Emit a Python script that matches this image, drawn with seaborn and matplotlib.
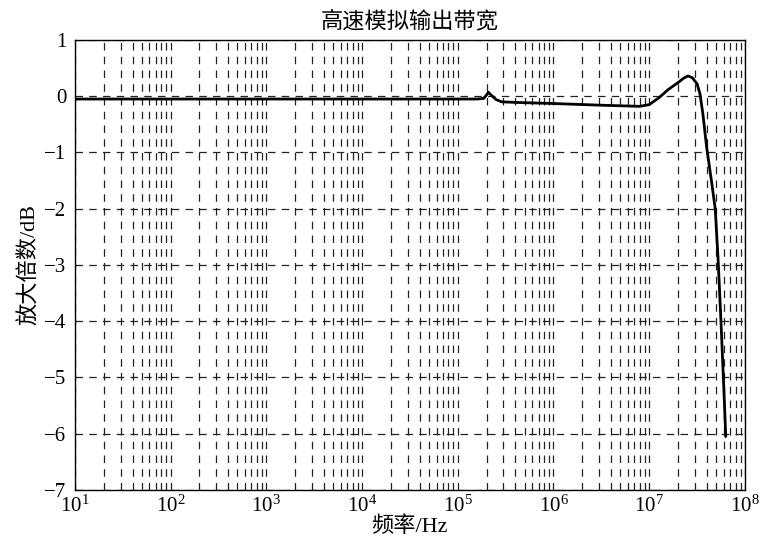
import numpy as np
import pandas as pd
import matplotlib
matplotlib.use("Agg")
import matplotlib.pyplot as plt
import seaborn as sns
from matplotlib.ticker import LogLocator, FixedLocator, NullFormatter

# data (log10 of frequency, gain in dB)
log_freq = [1.0, 3.0, 4.0, 5.0, 5.2, 5.27, 5.30, 5.32, 5.35, 5.40, 5.46, 5.6,
            6.0, 6.5, 6.9, 7.0, 7.1, 7.2, 7.3, 7.36, 7.405, 7.45, 7.5, 7.53,
            7.56, 7.6, 7.65, 7.69, 7.72, 7.75, 7.78, 7.80]
gain_db = [-0.05, -0.05, -0.05, -0.05, -0.05, -0.04, 0.02, 0.07, 0.02, -0.06, -0.10, -0.11,
           -0.13, -0.16, -0.18, -0.15, -0.03, 0.12, 0.24, 0.32, 0.36, 0.33, 0.22, 0.05,
           -0.30, -0.90, -1.5, -2.0, -2.9, -4.0, -5.2, -6.05]

title = "高速模拟输出带宽"
xlabel = "频率/Hz"
ylabel = "放大倍数/dB"
yticks = [1, 0, -1, -2, -3, -4, -5, -6, -7]
xticks = [1e1, 1e2, 1e3, 1e4, 1e5, 1e6, 1e7, 1e8]

df = pd.DataFrame({"freq": [10 ** v for v in log_freq], "gain": gain_db})

sns.set_theme(style="white")
plt.rcParams['font.family'] = ['Liberation Serif', 'Noto Sans CJK SC']
plt.rcParams['axes.unicode_minus'] = True

fig = plt.figure(figsize=(7.64, 5.40), dpi=100)
ax = fig.add_axes([0.098, 0.0926, 0.877, 0.8334])
ax.set_xscale("log")
sns.lineplot(data=df, x="freq", y="gain", ax=ax, color="black", linewidth=2.0)

ax.set_xlim(10, 1e8)
ax.set_ylim(-7, 1)
ax.yaxis.set_major_locator(FixedLocator(yticks))
ax.xaxis.set_major_locator(FixedLocator(xticks))
ax.xaxis.set_minor_locator(LogLocator(base=10, subs=np.arange(2, 10), numticks=100))
ax.xaxis.set_minor_formatter(NullFormatter())

grid_kw = dict(color="#222222", linestyle=(0, (6, 5)), linewidth=0.9)
ax.grid(True, which="major", axis="both", **grid_kw)
ax.grid(True, which="minor", axis="x", **grid_kw)

for s in ax.spines.values():
    s.set_color("black")
    s.set_linewidth(1.0)

ax.tick_params(axis="both", which="both", direction="in", labelsize=15, colors="black")
ax.tick_params(axis="both", which="minor", length=3)
ax.tick_params(axis="both", which="major", length=5)
ax.tick_params(axis="x", which="major", pad=4)
ax.tick_params(axis="y", which="major", pad=6)

ax.set_title(title, fontsize=16, pad=9, color="black")
ax.set_xlabel(xlabel, fontsize=16, labelpad=0, color="black")
ax.set_ylabel(ylabel, fontsize=16, labelpad=3, color="black")

fig.savefig("out.png", dpi=100, facecolor="white")
